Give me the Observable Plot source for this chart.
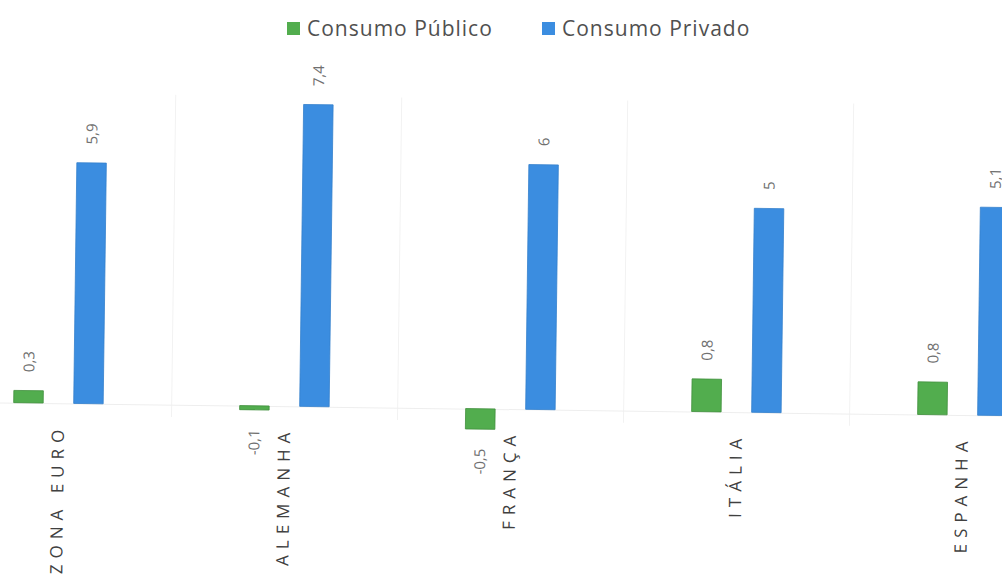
<!DOCTYPE html>
<html>
<head>
<meta charset="utf-8">
<script src="https://cdn.jsdelivr.net/npm/d3@7"></script>
<script src="https://cdn.jsdelivr.net/npm/@observablehq/plot@0.6"></script>
<style>
  html, body { margin: 0; padding: 0; background: #fff; }
  body { width: 1002px; height: 574px; overflow: hidden; font-family: "Open Sans", "DejaVu Sans", sans-serif; }
  #legend { height: 55px; position: relative; }
  #legend .item { position: absolute; top: 14px; display: flex; align-items: center; font-size: 21px; letter-spacing: 1px; color: #505050; }
  #legend .sw { width: 13px; height: 13px; margin-right: 7px; }
  #chart { transform: rotate(0.75deg); transform-origin: 501px 232px; }
  #chart svg { overflow: visible; }
  #chart g[aria-label="x-axis tick label"] text { letter-spacing: 6px; }
</style>
</head>
<body>
<div id="legend"></div>
<div id="chart"></div>
<script>
// ---- data ----
const paises = ["ZONA EURO", "ALEMANHA", "FRANÇA", "ITÁLIA", "ESPANHA"];
const series = ["Consumo Público", "Consumo Privado"];
const consumoPublico = [0.3, -0.1, -0.5, 0.8, 0.8];
const consumoPrivado = [5.9, 7.4, 6, 5, 5.1];
const cores = ["#52ad4e", "#3b8de0"];

const valores = [consumoPublico, consumoPrivado];
const data = [];
series.forEach((s, i) => paises.forEach((p, j) => data.push({ pais: p, serie: s, valor: valores[i][j] })));

const fmt = v => String(v).replace(".", ",");

// ---- legend ----
const legend = document.getElementById("legend");
const legendX = [287, 542];
series.forEach((s, i) => {
  const it = document.createElement("div");
  it.className = "item";
  it.style.left = legendX[i] + "px";
  it.innerHTML = `<span class="sw" style="background:${cores[i]}"></span><span>${s}</span>`;
  legend.appendChild(it);
});

// ---- layout ----
const step = 226.5;
const half = step / 2;
const first = 59;
const off = 30;   // offset of each bar from group center
const bw = 30;    // bar width
const pxPerUnit = 40.8;
const base = 354; // svg y of zero

const marks = [];
marks.push(Plot.ruleX(paises.slice(1), { x: d => d, dx: -half, y1: -0.3, y2: 7.6, stroke: "#f2f2f2", strokeWidth: 1 }));
marks.push(Plot.ruleY([0], { stroke: "#eeeeee", strokeWidth: 1 }));

series.forEach((s, i) => {
  const sign = i === 0 ? -1 : 1;
  const center = sign * off;
  const inL = half + center - bw / 2;
  const inR = half - center - bw / 2;
  const rows = data.filter(d => d.serie === s);
  marks.push(Plot.barY(rows, {
    x: "pais", y: "valor", fill: "serie",
    insetLeft: inL, insetRight: inR,
    stroke: i === 0 ? "#3f8f3c" : "#3480cc", strokeWidth: 0.8
  }));
  marks.push(Plot.text(rows.filter(d => d.valor >= 0), {
    x: "pais", y: "valor", text: d => fmt(d.valor),
    rotate: -90, textAnchor: "start", dx: center, dy: -19,
    fontSize: 15, fill: "#707070", letterSpacing: 1
  }));
  marks.push(Plot.text(rows.filter(d => d.valor < 0), {
    x: "pais", y: "valor", text: d => fmt(d.valor),
    rotate: -90, textAnchor: "end", dx: center, dy: 19,
    fontSize: 15, fill: "#707070"
  }));
});

marks.push(Plot.axisX({
  anchor: "bottom", tickRotate: -90, tickSize: 0, tickPadding: 8,
  fontSize: 17, fill: "#404040", label: null
}));

const chart = Plot.plot({
  width: 1002,
  height: 519,
  marginLeft: 0,
  marginRight: 0,
  marginTop: 0,
  marginBottom: 153,
  style: { fontFamily: "'Open Sans', 'DejaVu Sans', sans-serif", background: "transparent" },
  x: { domain: paises, range: [first - half, first - half + step * paises.length], padding: 0 },
  y: { domain: [0, 7.4], range: [base, base - 7.4 * pxPerUnit], axis: null },
  color: { domain: series, range: cores },
  marks
});
document.getElementById("chart").appendChild(chart);
</script>
</body>
</html>
